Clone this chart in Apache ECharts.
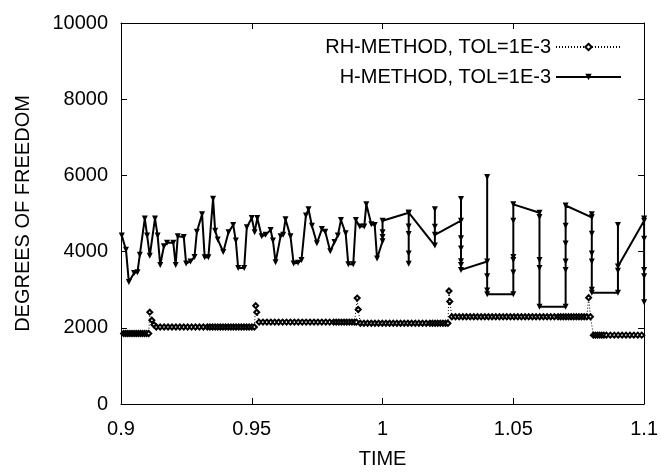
<!DOCTYPE html>
<html>
<head>
<meta charset="utf-8">
<script src="https://cdn.jsdelivr.net/npm/echarts@6/dist/echarts.min.js"></script>
<style>
  html, body { margin: 0; padding: 0; background: #fff; }
  #chart { width: 661px; height: 474px; }
</style>
</head>
<body>
<div id="chart"></div>
<script>
// Tick labels on the time axis
const xTickLabels = ['0.9', '0.95', '1', '1.05', '1.1'];

// RH-method: time steps and degrees of freedom
const rhTime = [
  0.9010, 0.9018, 0.9026, 0.9034, 0.9042, 0.9050, 0.9058, 0.9066, 0.9074, 0.9082, 0.9090, 0.9098, 0.9106,
  0.9110, 0.9118, 0.9126,
  0.9135, 0.9150, 0.9165, 0.9180, 0.9195, 0.9210, 0.9225, 0.9240, 0.9255, 0.9270, 0.9285, 0.9300, 0.9315, 0.9330,
  0.9340, 0.9350, 0.9360, 0.9370, 0.9380, 0.9390, 0.9400, 0.9410, 0.9420, 0.9430, 0.9440, 0.9450, 0.9460, 0.9470,
  0.9480, 0.9490, 0.9500, 0.9510,
  0.9515, 0.9519,
  0.9528, 0.9543, 0.9558, 0.9573, 0.9588, 0.9603, 0.9618, 0.9633, 0.9648, 0.9663, 0.9678, 0.9693, 0.9708, 0.9723,
  0.9738, 0.9753, 0.9768, 0.9783, 0.9798, 0.9813, 0.9823, 0.9833, 0.9843, 0.9853, 0.9863, 0.9873, 0.9883, 0.9893, 0.9900,
  0.9903, 0.9907,
  0.9915, 0.9929, 0.9943, 0.9957, 0.9971, 0.9985, 0.9999, 1.0013, 1.0027, 1.0041, 1.0055, 1.0069, 1.0083, 1.0097,
  1.0111, 1.0125, 1.0139, 1.0153, 1.0167, 1.0181, 1.0191, 1.0201, 1.0211, 1.0221, 1.0231, 1.0241, 1.0250,
  1.0254, 1.0257,
  1.0265, 1.0279, 1.0293, 1.0307, 1.0321, 1.0335, 1.0349, 1.0363, 1.0377, 1.0391, 1.0405, 1.0419, 1.0433, 1.0447,
  1.0461, 1.0475, 1.0489, 1.0503, 1.0517, 1.0531, 1.0545, 1.0559, 1.0573, 1.0587, 1.0601, 1.0615, 1.0629, 1.0643,
  1.0657, 1.0671, 1.0681, 1.0691, 1.0701, 1.0711, 1.0721, 1.0731, 1.0741, 1.0751, 1.0761, 1.0771, 1.0781,
  1.0788, 1.0795,
  1.0806, 1.0814, 1.0822, 1.0830, 1.0838, 1.0846, 1.0856, 1.0871, 1.0886, 1.0901, 1.0916, 1.0931, 1.0946, 1.0961,
  1.0976, 1.0991
];
const rhDof = [
  1850, 1850, 1850, 1850, 1850, 1850, 1850, 1850, 1850, 1850, 1850, 1850, 1850,
  2410, 2200, 2080,
  2020, 2020, 2020, 2020, 2020, 2020, 2020, 2020, 2020, 2020, 2020, 2020, 2020, 2020,
  2020, 2020, 2020, 2020, 2020, 2020, 2020, 2020, 2020, 2020, 2020, 2020, 2020, 2020,
  2020, 2020, 2020, 2020,
  2580, 2410,
  2150, 2150, 2150, 2150, 2150, 2150, 2150, 2150, 2150, 2150, 2150, 2150, 2150, 2150,
  2150, 2150, 2150, 2150, 2150, 2150, 2150, 2150, 2150, 2150, 2150, 2150, 2150, 2150, 2150,
  2780, 2480,
  2120, 2120, 2120, 2120, 2120, 2120, 2120, 2120, 2120, 2120, 2120, 2120, 2120, 2120,
  2120, 2120, 2120, 2120, 2120, 2120, 2120, 2120, 2120, 2120, 2120, 2120, 2120,
  2965, 2690,
  2290, 2290, 2290, 2290, 2290, 2290, 2290, 2290, 2290, 2290, 2290, 2290, 2290, 2290,
  2290, 2290, 2290, 2290, 2290, 2290, 2290, 2290, 2290, 2290, 2290, 2290, 2290, 2290,
  2290, 2290, 2290, 2290, 2290, 2290, 2290, 2290, 2290, 2290, 2290, 2290, 2290,
  2790, 2290,
  1807, 1807, 1807, 1807, 1807, 1807, 1807, 1807, 1807, 1807, 1807, 1807, 1807, 1807,
  1807, 1807
];

// H-method: time steps and degrees of freedom (repeated times are re-meshings)
const hTime = [
  0.9003, 0.9019, 0.9030, 0.9050, 0.9063, 0.9072, 0.9091, 0.9100, 0.9110, 0.9130,
  0.9140, 0.9150, 0.9164, 0.9176, 0.9200, 0.9209, 0.9217, 0.9240, 0.9249, 0.9266,
  0.9281, 0.9290, 0.9310, 0.9320, 0.9334, 0.9352, 0.9360, 0.9370, 0.9391, 0.9411,
  0.9429, 0.9439, 0.9448, 0.9471, 0.9481, 0.9500, 0.9511, 0.9521, 0.9538, 0.9553,
  0.9572, 0.9581, 0.9591, 0.9610, 0.9620, 0.9629, 0.9648, 0.9660, 0.9677, 0.9690,
  0.9707, 0.9717, 0.9730, 0.9749, 0.9768, 0.9781, 0.9800, 0.9816, 0.9829, 0.9841,
  0.9859, 0.9869, 0.9888, 0.9898, 0.9913, 0.9930, 0.9938, 0.9957, 0.9970, 0.9979,
  1.00, 1.00, 1.00, 1.00,
  1.01, 1.01, 1.01, 1.01, 1.01, 1.01,
  1.02, 1.02, 1.02, 1.02,
  1.03, 1.03, 1.03, 1.03, 1.03, 1.03, 1.03,
  1.04, 1.04, 1.04, 1.04, 1.04,
  1.05, 1.05, 1.05, 1.05, 1.05, 1.05,
  1.06, 1.06, 1.06, 1.06, 1.06,
  1.07, 1.07, 1.07, 1.07, 1.07, 1.07,
  1.08, 1.08, 1.08, 1.08, 1.08, 1.08, 1.08,
  1.09, 1.09, 1.09, 1.09,
  1.10, 1.10, 1.10, 1.10, 1.10, 1.10
];
const hDof = [
  4420, 4050, 3200, 3440, 3460, 3920, 4870, 4420, 3890, 4870,
  4420, 3650, 4140, 4230, 4230, 3650, 4400, 4380, 3690, 3740,
  3860, 4520, 4980, 3850, 3850, 5390, 4550, 4320, 3990, 4510,
  4700, 4290, 3570, 3570, 4640, 4880, 4510, 4880, 4400, 4440,
  4570, 4290, 3720, 4400, 4440, 4850, 4400, 3690, 3710, 3780,
  4950, 5110, 4680, 4220, 4590, 4520, 4010, 4250, 4420, 4830,
  4480, 3670, 3670, 4830, 4660, 4660, 5240, 4720, 4700, 3820,
  4270, 4380, 4510, 4810,
  5020, 4660, 4460, 3950, 3680, 5020,
  4160, 4650, 5110, 4440,
  4810, 5380, 4350, 4080, 3750, 3650, 3520,
  3740, 5960, 3350, 2980, 2880,
  2880, 3450, 3780, 3860, 4810, 5240,
  5020, 4910, 3780, 3570, 2550,
  2550, 3520, 3740, 4210, 4680, 5210,
  4900, 4980, 4470, 3950, 3740, 3000, 2920,
  2920, 4700, 3500, 3610,
  4810, 4870, 4340, 3520, 3350, 2670
];

const FONT = '"Liberation Sans", Arial, Helvetica, sans-serif';
const chart = echarts.init(document.getElementById('chart'), null, { renderer: 'canvas' });

const frameAxis = {
  axisLine: { show: true, onZero: false, lineStyle: { color: '#000', width: 1 } },
  axisTick: { show: true, inside: true, length: 6, lineStyle: { color: '#000', width: 1 } },
  splitLine: { show: false }
};

chart.setOption({
  animation: false,
  backgroundColor: '#fff',
  textStyle: { fontFamily: FONT },
  grid: { left: 121, right: 13, top: 23, bottom: 62, containLabel: false },
  legend: {
    orient: 'vertical',
    align: 'right',
    right: 39,
    top: 37,
    padding: 0,
    itemWidth: 65,
    itemHeight: 8,
    itemGap: 10,
    textStyle: { fontFamily: FONT, fontSize: 20, color: '#000', lineHeight: 20 },
    data: ['RH-METHOD, TOL=1E-3', 'H-METHOD, TOL=1E-3']
  },
  xAxis: [
    Object.assign({
      type: 'value', min: 0.9, max: 1.1, interval: 0.05, position: 'bottom',
      name: 'TIME', nameLocation: 'middle', nameGap: 45,
      nameTextStyle: { fontFamily: FONT, fontSize: 20, color: '#000' },
      axisLabel: {
        fontFamily: FONT, fontSize: 20, color: '#000', margin: 15,
        formatter: (v) => xTickLabels[Math.round((v - 0.9) / 0.05)]
      }
    }, frameAxis),
    Object.assign({
      type: 'value', min: 0.9, max: 1.1, interval: 0.05, position: 'top',
      axisLabel: { show: false }
    }, frameAxis)
  ],
  yAxis: [
    Object.assign({
      type: 'value', min: 0, max: 10000, interval: 2000, position: 'left',
      name: 'DEGREES OF FREEDOM', nameLocation: 'middle', nameGap: 88, nameRotate: 90,
      nameTextStyle: { fontFamily: FONT, fontSize: 20, color: '#000' },
      axisLabel: { fontFamily: FONT, fontSize: 20, color: '#000', margin: 13, formatter: (v) => String(v) }
    }, frameAxis),
    Object.assign({
      type: 'value', min: 0, max: 10000, interval: 2000, position: 'right',
      axisLabel: { show: false }
    }, frameAxis)
  ],
  series: [
    {
      name: 'RH-METHOD, TOL=1E-3',
      type: 'line',
      data: rhTime.map((t, i) => [t, rhDof[i]]),
      symbol: 'emptyDiamond',
      symbolSize: 5,
      showAllSymbol: true,
      lineStyle: { color: '#000', width: 1, type: [1, 2] },
      itemStyle: { color: '#000', borderWidth: 2.6 },
      z: 3
    },
    {
      name: 'H-METHOD, TOL=1E-3',
      type: 'line',
      data: hTime.map((t, i) => [t, hDof[i]]),
      symbol: 'triangle',
      symbolRotate: 180,
      symbolSize: 6,
      showAllSymbol: true,
      lineStyle: { color: '#000', width: 2 },
      itemStyle: { color: '#000' },
      z: 2
    }
  ]
});
</script>
</body>
</html>
